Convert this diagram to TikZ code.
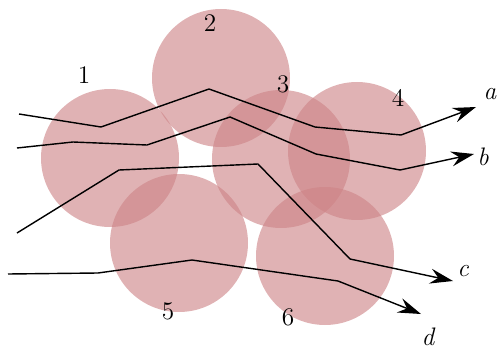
\documentclass[tikz,border=0pt]{standalone}
\usepackage{amsmath}
\usepackage{tikz}
\usetikzlibrary{arrows.meta}
\definecolor{zonered}{RGB}{205,131,134}
\tikzset{%
    >={Stealth[length=4.6mm,width=3mm,inset=1.6mm]}, % big arrow heads
    zone/.style={circle,fill=zonered,fill opacity=0.62,
    minimum size=2.76cm,inner sep=0pt,outer sep=0pt},%
    zone label/.style={font=\Large},%
    route/.style={line width=0.8pt,black,->},%
    route label/.style={font=\Large\itshape}%
    }

\begin{document}
\begin{tikzpicture}
    \useasboundingbox (0,0) rectangle (9.96,6.98);

    % the six zones
    \node[zone] (z1) at (2.20,3.82) {};
    \node[zone] (z2) at (4.42,5.42) {};
    \node[zone] (z3) at (5.62,3.80) {};
    \node[zone] (z4) at (7.14,3.96) {};
    \node[zone] (z5) at (3.58,2.12) {};
    \node[zone] (z6) at (6.50,1.86) {};

    \node[zone label] (n1) at (1.68,5.48) {1};
    \node[zone label] (n2) at (4.20,6.52) {2};
    \node[zone label] (n3) at (5.66,5.30) {3};
    \node[zone label] (n4) at (7.96,5.02) {4};
    \node[zone label] (n5) at (3.36,0.76) {5};
    \node[zone label] (n6) at (5.76,0.64) {6};

    % route ends
    \coordinate (a0) at (0.38,4.70);
    \coordinate (a1) at (9.52,4.84);
    \coordinate (b0) at (0.34,4.02);
    \coordinate (b1) at (9.48,3.90);
    \coordinate (c0) at (0.34,2.32);
    \coordinate (c1) at (9.06,1.36);
    \coordinate (d0) at (0.16,1.50);
    \coordinate (d1) at (8.42,0.70);

    \draw[route] (a0) -- (2.02,4.44) -- (4.18,5.20) -- (6.30,4.44)
        -- (8.02,4.28) -- (a1);
    \draw[route] (b0) -- (1.46,4.14) -- (2.94,4.08) -- (4.60,4.64)
        -- (6.32,3.90) -- (8.00,3.58) -- (b1);
    \draw[route] (c0) -- (2.38,3.58) -- (5.16,3.70) -- (7.00,1.80)
        -- (c1);
    \draw[route] (d0) -- (1.96,1.52) -- (3.84,1.78) -- (6.76,1.36)
        -- (d1);

    \node[route label] (la) at (9.80,5.10) {a};
    \node[route label] (lb) at (9.66,3.84) {b};
    \node[route label] (lc) at (9.26,1.56) {c};
    \node[route label] (ld) at (8.56,0.24) {d};
\end{tikzpicture}
\end{document}
